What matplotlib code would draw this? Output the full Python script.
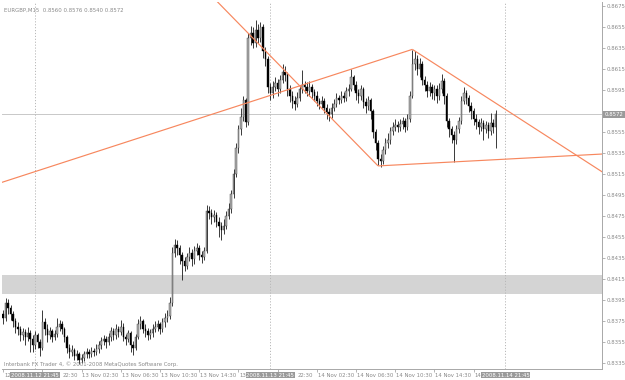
import matplotlib
matplotlib.use("Agg")
import matplotlib.pyplot as plt
from matplotlib.transforms import blended_transform_factory, offset_copy

# ---------------- data (EURGBP M15) ----------------
title_text = "EURGBP,M15  0.8560 0.8576 0.8540 0.8572"
copyright_text = "Interbank FX Trader 4, \u00a9 2001-2008 MetaQuotes Software Corp."

opens = [
    0.8382, 0.8378, 0.8392, 0.8388, 0.8382, 0.8375, 0.8370, 0.8368, 0.8362, 0.8365,
    0.8360, 0.8364, 0.8358, 0.8352, 0.8362, 0.8355, 0.8350, 0.8374, 0.8368, 0.8362,
    0.8366, 0.8360, 0.8363, 0.8370, 0.8372, 0.8368, 0.8360, 0.8350, 0.8346, 0.8348,
    0.8342, 0.8344, 0.8338, 0.8340, 0.8344, 0.8346, 0.8344, 0.8347, 0.8346, 0.8349,
    0.8352, 0.8356, 0.8358, 0.8355, 0.8360, 0.8366, 0.8362, 0.8368, 0.8365, 0.8370,
    0.8360, 0.8358, 0.8364, 0.8352, 0.8350, 0.8360, 0.8372, 0.8375, 0.8368, 0.8366,
    0.8362, 0.8364, 0.8368, 0.8370, 0.8372, 0.8368, 0.8374, 0.8378, 0.8380, 0.8392,
    0.8440, 0.8448, 0.8445, 0.8438, 0.8432, 0.8428, 0.8436, 0.8440, 0.8434, 0.8442,
    0.8445, 0.8438, 0.8436, 0.8442, 0.8480, 0.8478, 0.8474, 0.8476, 0.8470, 0.8466,
    0.8462, 0.8466, 0.8475, 0.8482, 0.8496, 0.8515, 0.8540, 0.8558, 0.8570, 0.8586,
    0.8565, 0.8645, 0.8650, 0.8640, 0.8652, 0.8645, 0.8655, 0.8632, 0.8625, 0.8598,
    0.8592, 0.8598, 0.8602, 0.8596, 0.8605, 0.8612, 0.8610, 0.8596, 0.8590, 0.8585,
    0.8582, 0.8588, 0.8596, 0.8600, 0.8598, 0.8594, 0.8598, 0.8593, 0.8590, 0.8585,
    0.8582, 0.8585, 0.8578, 0.8574, 0.8572, 0.8578, 0.8582, 0.8588, 0.8586, 0.8590,
    0.8588, 0.8594, 0.8596, 0.8608, 0.8600, 0.8592, 0.8590, 0.8596, 0.8584, 0.8580,
    0.8586, 0.8575, 0.8555, 0.8545, 0.8530, 0.8528, 0.8538, 0.8545, 0.8548, 0.8556,
    0.8560, 0.8562, 0.8560, 0.8563, 0.8566, 0.8560, 0.8568, 0.8590, 0.8620, 0.8625,
    0.8615, 0.8620, 0.8605, 0.8600, 0.8594, 0.8598, 0.8592, 0.8596, 0.8590, 0.8596,
    0.8604, 0.8590, 0.8566, 0.8558, 0.8552, 0.8548, 0.8558, 0.8566, 0.8585, 0.8592,
    0.8588, 0.8580, 0.8575, 0.8568, 0.8565, 0.8560, 0.8564, 0.8558, 0.8562, 0.8556,
    0.8564, 0.8560,
]
closes = [
    0.8378, 0.8392, 0.8388, 0.8382, 0.8375, 0.8370, 0.8368, 0.8362, 0.8365, 0.8360,
    0.8364, 0.8358, 0.8352, 0.8362, 0.8355, 0.8350, 0.8374, 0.8368, 0.8362, 0.8366,
    0.8360, 0.8363, 0.8370, 0.8372, 0.8368, 0.8360, 0.8350, 0.8346, 0.8348, 0.8342,
    0.8344, 0.8338, 0.8340, 0.8344, 0.8346, 0.8344, 0.8347, 0.8346, 0.8349, 0.8352,
    0.8356, 0.8358, 0.8355, 0.8360, 0.8366, 0.8362, 0.8368, 0.8365, 0.8370, 0.8360,
    0.8358, 0.8364, 0.8352, 0.8350, 0.8360, 0.8372, 0.8375, 0.8368, 0.8366, 0.8362,
    0.8364, 0.8368, 0.8370, 0.8372, 0.8368, 0.8374, 0.8378, 0.8380, 0.8392, 0.8440,
    0.8448, 0.8445, 0.8438, 0.8432, 0.8428, 0.8436, 0.8440, 0.8434, 0.8442, 0.8445,
    0.8438, 0.8436, 0.8442, 0.8480, 0.8478, 0.8474, 0.8476, 0.8470, 0.8466, 0.8462,
    0.8466, 0.8475, 0.8482, 0.8496, 0.8515, 0.8540, 0.8558, 0.8570, 0.8586, 0.8565,
    0.8645, 0.8650, 0.8640, 0.8652, 0.8645, 0.8655, 0.8632, 0.8625, 0.8598, 0.8592,
    0.8598, 0.8602, 0.8596, 0.8605, 0.8612, 0.8610, 0.8596, 0.8590, 0.8585, 0.8582,
    0.8588, 0.8596, 0.8600, 0.8598, 0.8594, 0.8598, 0.8593, 0.8590, 0.8585, 0.8582,
    0.8585, 0.8578, 0.8574, 0.8572, 0.8578, 0.8582, 0.8588, 0.8586, 0.8590, 0.8588,
    0.8594, 0.8596, 0.8608, 0.8600, 0.8592, 0.8590, 0.8596, 0.8584, 0.8580, 0.8586,
    0.8575, 0.8555, 0.8545, 0.8530, 0.8528, 0.8538, 0.8545, 0.8548, 0.8556, 0.8560,
    0.8562, 0.8560, 0.8563, 0.8566, 0.8560, 0.8568, 0.8590, 0.8620, 0.8625, 0.8615,
    0.8620, 0.8605, 0.8600, 0.8594, 0.8598, 0.8592, 0.8596, 0.8590, 0.8596, 0.8604,
    0.8590, 0.8566, 0.8558, 0.8552, 0.8548, 0.8558, 0.8566, 0.8585, 0.8592, 0.8588,
    0.8580, 0.8575, 0.8568, 0.8565, 0.8560, 0.8564, 0.8558, 0.8562, 0.8556, 0.8564,
    0.8560, 0.8572,
]
highs = [
    0.8386, 0.8397, 0.8396, 0.8391, 0.8385, 0.8378, 0.8374, 0.8371, 0.8369, 0.8368,
    0.8370, 0.8367, 0.8362, 0.8366, 0.8364, 0.8358, 0.8386, 0.8378, 0.8372, 0.8370,
    0.8368, 0.8367, 0.8378, 0.8376, 0.8375, 0.8370, 0.8362, 0.8353, 0.8352, 0.8350,
    0.8348, 0.8346, 0.8344, 0.8347, 0.8350, 0.8349, 0.8351, 0.8350, 0.8353, 0.8356,
    0.8360, 0.8362, 0.8361, 0.8364, 0.8370, 0.8369, 0.8372, 0.8371, 0.8376, 0.8373,
    0.8363, 0.8367, 0.8366, 0.8356, 0.8363, 0.8377, 0.8380, 0.8377, 0.8372, 0.8369,
    0.8368, 0.8372, 0.8375, 0.8376, 0.8374, 0.8378, 0.8383, 0.8386, 0.8398, 0.8446,
    0.8453, 0.8452, 0.8448, 0.8441, 0.8436, 0.8440, 0.8446, 0.8444, 0.8447, 0.8450,
    0.8448, 0.8442, 0.8446, 0.8486, 0.8485, 0.8482, 0.8481, 0.8479, 0.8474, 0.8470,
    0.8472, 0.8480, 0.8488, 0.8500, 0.8520, 0.8545, 0.8562, 0.8578, 0.8590, 0.8588,
    0.8650, 0.8656, 0.8655, 0.8662, 0.8658, 0.8660, 0.8658, 0.8636, 0.8628, 0.8602,
    0.8604, 0.8608, 0.8606, 0.8610, 0.8620, 0.8618, 0.8612, 0.8600, 0.8594, 0.8590,
    0.8593, 0.8600, 0.8614, 0.8604, 0.8603, 0.8604, 0.8601, 0.8596, 0.8594, 0.8588,
    0.8590, 0.8588, 0.8582, 0.8578, 0.8583, 0.8587, 0.8592, 0.8591, 0.8594, 0.8593,
    0.8598, 0.8601, 0.8615, 0.8610, 0.8604, 0.8596, 0.8600, 0.8598, 0.8588, 0.8590,
    0.8588, 0.8577, 0.8558, 0.8548, 0.8534, 0.8542, 0.8550, 0.8554, 0.8560, 0.8565,
    0.8568, 0.8566, 0.8568, 0.8570, 0.8569, 0.8572, 0.8594, 0.8633, 0.8632, 0.8629,
    0.8626, 0.8623, 0.8609, 0.8604, 0.8603, 0.8601, 0.8600, 0.8600, 0.8602, 0.8611,
    0.8607, 0.8592, 0.8569, 0.8561, 0.8556, 0.8562, 0.8570, 0.8590, 0.8598, 0.8595,
    0.8591, 0.8584, 0.8578, 0.8572, 0.8568, 0.8569, 0.8567, 0.8566, 0.8565, 0.8573,
    0.8568, 0.8576,
]
lows = [
    0.8372, 0.8375, 0.8382, 0.8376, 0.8370, 0.8364, 0.8362, 0.8356, 0.8357, 0.8352,
    0.8356, 0.8346, 0.8346, 0.8349, 0.8350, 0.8342, 0.8348, 0.8362, 0.8355, 0.8358,
    0.8355, 0.8357, 0.8360, 0.8366, 0.8363, 0.8355, 0.8345, 0.8340, 0.8342, 0.8338,
    0.8338, 0.8334, 0.8335, 0.8337, 0.8340, 0.8340, 0.8341, 0.8342, 0.8343, 0.8345,
    0.8349, 0.8352, 0.8350, 0.8352, 0.8356, 0.8357, 0.8358, 0.8360, 0.8362, 0.8356,
    0.8352, 0.8355, 0.8346, 0.8343, 0.8348, 0.8358, 0.8368, 0.8364, 0.8360, 0.8357,
    0.8358, 0.8360, 0.8365, 0.8366, 0.8363, 0.8365, 0.8370, 0.8374, 0.8377, 0.8390,
    0.8436, 0.8438, 0.8430, 0.8414, 0.8423, 0.8425, 0.8432, 0.8428, 0.8430, 0.8438,
    0.8433, 0.8431, 0.8433, 0.8440, 0.8472, 0.8468, 0.8470, 0.8465, 0.8455, 0.8452,
    0.8458, 0.8463, 0.8472, 0.8478, 0.8492, 0.8512, 0.8535, 0.8552, 0.8566, 0.8560,
    0.8562, 0.8638, 0.8635, 0.8636, 0.8640, 0.8641, 0.8626, 0.8618, 0.8592, 0.8586,
    0.8588, 0.8594, 0.8590, 0.8592, 0.8602, 0.8604, 0.8590, 0.8584, 0.8578, 0.8576,
    0.8579, 0.8585, 0.8592, 0.8592, 0.8590, 0.8590, 0.8588, 0.8585, 0.8580, 0.8577,
    0.8578, 0.8573, 0.8568, 0.8566, 0.8569, 0.8575, 0.8579, 0.8582, 0.8583, 0.8584,
    0.8585, 0.8590, 0.8594, 0.8595, 0.8586, 0.8583, 0.8586, 0.8578, 0.8573, 0.8576,
    0.8568, 0.8550, 0.8538, 0.8524, 0.8522, 0.8525, 0.8534, 0.8540, 0.8544, 0.8552,
    0.8556, 0.8555, 0.8556, 0.8558, 0.8555, 0.8557, 0.8565, 0.8588, 0.8614, 0.8610,
    0.8608, 0.8600, 0.8594, 0.8589, 0.8590, 0.8587, 0.8586, 0.8583, 0.8586, 0.8592,
    0.8582, 0.8560, 0.8551, 0.8545, 0.8527, 0.8544, 0.8554, 0.8563, 0.8582, 0.8582,
    0.8574, 0.8568, 0.8562, 0.8558, 0.8553, 0.8556, 0.8548, 0.8554, 0.8550, 0.8552,
    0.8554, 0.8540,
]

# time-axis labels (bar index of each label); parts hidden in the reference under
# the highlighted date boxes are shown as the visible fragment only
time_label_bars = [0, 16, 32, 48, 64, 80, 96, 112, 128, 144, 160, 176, 192]
time_labels_visible = ["12", "22:30", "13 Nov 02:30", "13 Nov 06:30",
                       "13 Nov 10:30", "13 Nov 14:30", "13", "22:30",
                       "14 Nov 02:30", "14 Nov 06:30", "14 Nov 10:30",
                       "14 Nov 14:30", "14"]
time_label_shifted = [False, True, False, False, False, False, False, True,
                      False, False, False, False, False]
separator_bars = [13, 109, 205]
separator_labels = ["2008.11.12 21:45", "2008.11.13 21:45", "2008.11.14 21:45"]

price_ticks = [0.8335, 0.8355, 0.8375, 0.8395, 0.8415, 0.8435, 0.8455, 0.8475,
               0.8495, 0.8515, 0.8535, 0.8555, 0.8575, 0.8595, 0.8615, 0.8635,
               0.8655, 0.8675]
current_price = 0.8572
zone_low, zone_high = 0.8401, 0.8419

# trend lines: (bar1, price1, bar2, price2)
trend_lines = [
    (-1, 0.8507, 167, 0.8634),
    (167, 0.8634, 250, 0.8509),
    (80, 0.8697, 153, 0.8523),
    (153, 0.8523, 250, 0.8535),
]

# ---------------- figure ----------------
W, H = 625, 380
fig = plt.figure(figsize=(W / 100, H / 100), dpi=100, facecolor="white")
ax = fig.add_axes([2 / W, 11 / H, 600 / W, 367 / H])
ax.set_facecolor("white")
ax.set_xlim(-0.5, 244.4)
ax.set_ylim(0.83296, 0.86791)

FS = 3.9
GREY_TXT = "#8a8a8a"

# zone
ax.axhspan(zone_low, zone_high, color="#d4d4d4", lw=0, zorder=0)
# current price line
ax.axhline(current_price, color="#c8c8c8", lw=0.7, zorder=1)
# separators
for b in separator_bars:
    ax.axvline(b, color="#b8b8b8", lw=0.7, ls=(0, (1.2, 1.8)), zorder=1)

# candles
xs = list(range(len(closes)))
ax.vlines(xs, lows, highs, color="#1a1a1a", lw=0.6, zorder=2)
for x, o, c in zip(xs, opens, closes):
    bottom = min(o, c)
    height = max(abs(c - o), 0.00004)
    if c >= o:
        ax.bar(x, height, bottom=bottom, width=0.62, color="#b0b0b0",
               edgecolor="#3a3a3a", lw=0.3, zorder=3)
    else:
        ax.bar(x, height, bottom=bottom, width=0.62, color="#000000",
               edgecolor="#000000", lw=0.3, zorder=3)

# trend lines
for b1, p1, b2, p2 in trend_lines:
    ax.plot([b1, b2], [p1, p2], color="#f7875e", lw=0.85, zorder=4,
            solid_capstyle="butt")

# spines
for s in ["top", "left"]:
    ax.spines[s].set_visible(False)
for s in ["right", "bottom"]:
    ax.spines[s].set_color("#a8a8a8")
    ax.spines[s].set_linewidth(0.7)

# y axis on right (the 0.8575 label lies under the current-price box)
ax.yaxis.tick_right()
ax.set_yticks(price_ticks)
ax.set_yticklabels(["" if abs(p - 0.8575) < 1e-6 else f"{p:.4f}" for p in price_ticks])
ax.tick_params(axis="y", direction="out", length=2, width=0.6, color="#a8a8a8",
               labelsize=FS, labelcolor=GREY_TXT, pad=1)

# x axis ticks
ax.set_xticks(time_label_bars)
ax.set_xticklabels([""] * len(time_label_bars))
ax.tick_params(axis="x", direction="out", length=2, width=0.6, color="#a8a8a8")

trans = blended_transform_factory(ax.transData, ax.transAxes)
trans_shift = offset_copy(trans, fig=fig, x=14.6, y=0, units="points")
LABEL_Y = -0.0165
for b, lab, sh in zip(time_label_bars, time_labels_visible, time_label_shifted):
    ax.text(b, LABEL_Y, lab, transform=(trans_shift if sh else offset_copy(
        trans, fig=fig, x=0.6, y=0, units="points")),
        ha="left", va="center", fontsize=FS, color=GREY_TXT, clip_on=False)

# highlighted separator labels on the time axis
for b, lab in zip(separator_bars, separator_labels):
    ax.text(b, LABEL_Y, lab, transform=trans, ha="center", va="center",
            fontsize=FS, color="white", clip_on=False, zorder=10,
            bbox=dict(boxstyle="square,pad=0.15", fc="#9a9a9a", ec="none"))

# current price box on the price axis
ax.text(1.004, current_price, f"{current_price:.4f}",
        transform=blended_transform_factory(ax.transAxes, ax.transData),
        ha="left", va="center", fontsize=FS, color="white", clip_on=False,
        zorder=10, bbox=dict(boxstyle="square,pad=0.25", fc="#9a9a9a", ec="none"))

# header and footer texts
ax.text(0.004, 0.985, title_text, transform=ax.transAxes, ha="left", va="top",
        fontsize=FS, color=GREY_TXT)
ax.text(0.004, 0.014, copyright_text, transform=ax.transAxes, ha="left",
        va="center", fontsize=FS, color=GREY_TXT)

fig.savefig("out.png", dpi=100, facecolor="white")
